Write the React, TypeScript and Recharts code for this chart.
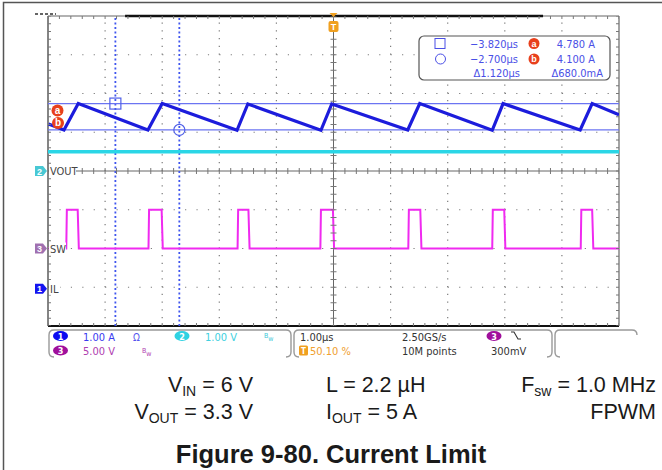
import { ComposedChart, Line, XAxis, YAxis, ReferenceLine, ReferenceDot, Scatter } from 'recharts'

const WIDTH = 662
const HEIGHT = 470
const PLOT_MARGIN = { top: 16, right: 43, bottom: 144, left: 48 }

// graticule: 10 divisions of 1.00 µs across, 8 divisions up
const TIME_DIVS = [-5, -4, -3, -2, -1, 0, 1, 2, 3, 4, 5]
const VERT_DIVS = [-4, -3, -2, -1, 0, 1, 2, 3, 4]
const MINOR_STEP = 0.2

// channel setup: ground position (div) and units per division
const IL_OFFSET = -3.04
const IL_PER_DIV = 1.0 // A
const VOUT_OFFSET = 0
const VOUT_PER_DIV = 1.0 // V
const SW_OFFSET = -2
const SW_PER_DIV = 5.0 // V

// ch1 inductor current, ramp corners (µs, A)
const IL_TIME = [-4.99, -4.72, -4.47, -3.25, -3.0, -1.69, -1.5, -0.22, -0.03, 1.3, 1.51, 2.78, 2.97, 4.32, 4.53, 5.0]
const IL_AMPS = [4.25, 4.1, 4.78, 4.1, 4.78, 4.09, 4.77, 4.09, 4.77, 4.1, 4.78, 4.09, 4.78, 4.1, 4.78, 4.49]

// ch3 switch node (µs, V)
const SW_TIME = [-5, -4.68, -4.67, -4.48, -4.46, -3.24, -3.23, -3.01, -2.99, -1.68, -1.67, -1.49, -1.47, -0.23, -0.22, -0.01, 0.01, 1.31, 1.32, 1.52, 1.54, 2.78, 2.79, 2.99, 3.01, 4.33, 4.34, 4.53, 4.55, 5]
const SW_VOLTS = [0, 0, 5, 5, 0, 0, 5, 5, 0, 0, 5, 5, 0, 0, 5, 5, 0, 0, 5, 5, 0, 0, 5, 5, 0, 0, 5, 5, 0, 0]

// ch2 output voltage (µs, V)
const VOUT_TIME = [-5, 5]
const VOUT_VOLTS = [0.5, 0.5]

// cursors a / b
const CURSOR_TIME = [-3.82, -2.7]
const CURSOR_AMPS = [4.78, 4.1]
const RECORD_VIEW = [-3.65, 3.67]
const TRIGGER_TIME = 0

const SCOPE_FONT = '"Liberation Sans Narrow", "DejaVu Sans Condensed", "Liberation Sans", Arial, sans-serif'
const TEXT_FONT = '"Liberation Sans", Arial, sans-serif'

const toRows = (ts: number[], vs: number[], off: number, perDiv: number) =>
  ts.map((t, i) => ({ t, v: vs[i] / perDiv + off }))

const ilRows = toRows(IL_TIME, IL_AMPS, IL_OFFSET, IL_PER_DIV)
const swRows = toRows(SW_TIME, SW_VOLTS, SW_OFFSET, SW_PER_DIV)
const voutRows = toRows(VOUT_TIME, VOUT_VOLTS, VOUT_OFFSET, VOUT_PER_DIV)
const cursorDiv = CURSOR_AMPS.map(a => a / IL_PER_DIV + IL_OFFSET)

const xMinor = Array.from({ length: 51 }, (_, i) => +(-5 + i * MINOR_STEP).toFixed(2))
const yMinor = Array.from({ length: 41 }, (_, i) => +(-4 + i * MINOR_STEP).toFixed(2))

const tickShape = (x1: number, y1: number, x2: number, y2: number) => (p: any) => (
  <line x1={p.cx + x1} y1={p.cy + y1} x2={p.cx + x2} y2={p.cy + y2} stroke="#777" strokeWidth={1} />
)

const channelTag = (num: string, color: string, label: string, labelW: number) => (p: any) => {
  const { cx, cy } = p
  return (
    <g>
      <path d={`M ${cx - 13} ${cy - 5} L ${cx - 5} ${cy - 5} L ${cx - 1} ${cy} L ${cx - 5} ${cy + 5} L ${cx - 13} ${cy + 5} Z`} fill={color} />
      <text x={cx - 8.5} y={cy + 3.5} fontSize={9} fontWeight="bold" fill="#fff" textAnchor="middle" fontFamily={TEXT_FONT}>{num}</text>
      <rect x={cx + 1} y={cy - 6} width={labelW} height={12} fill="#fff" />
      <text x={cx + 2} y={cy + 4} fontSize={11} fill="#444" fontFamily={SCOPE_FONT}>{label}</text>
    </g>
  )
}

const cursorBadge = (letter: string, dx: number, dy: number) => (p: any) => (
  <g>
    <circle cx={p.cx + dx} cy={p.cy + dy} r={6} fill="#e8401c" />
    <text x={p.cx + dx} y={p.cy + dy + 3.5} fontSize={10} fontWeight="bold" fill="#fff" textAnchor="middle" fontFamily={TEXT_FONT}>{letter}</text>
  </g>
)

const triggerShape = (p: any) => (
  <g>
    <path d={`M ${p.cx - 4} ${p.cy - 3} L ${p.cx + 4} ${p.cy - 3} L ${p.cx} ${p.cy + 1} Z`} fill="#f0a020" />
    <rect x={p.cx - 5} y={p.cy + 5} width={10} height={11} rx={2} fill="#f0a020" />
    <text x={p.cx} y={p.cy + 14} fontSize={9} fontWeight="bold" fill="#fff" textAnchor="middle" fontFamily={TEXT_FONT}>T</text>
  </g>
)

const BLUE_TXT = '#4a4fe6'

const Overlay = () => (
  <svg width={WIDTH} height={HEIGHT} style={{ position: 'absolute', left: 0, top: 0, pointerEvents: 'none' }}>
    {/* page frame */}
    <path d="M 3.5 470 L 3.5 2.5 L 662 2.5" fill="none" stroke="#555" strokeWidth={1.5} />
    <path d="M 35 14 L 56 14" stroke="#333" strokeWidth={1.5} strokeDasharray="3 2" />

    {/* cursor readout */}
    <rect x={419} y={36} width={191} height={44} rx={5} fill="#fff" stroke="#555" strokeWidth={1.2} />
    <g fontFamily={SCOPE_FONT} fontSize={11} fill={BLUE_TXT}>
      <rect x={435} y={38.5} width={10} height={10} fill="none" stroke={BLUE_TXT} strokeWidth={1} />
      <circle cx={440.5} cy={59} r={5} fill="none" stroke={BLUE_TXT} strokeWidth={1} />
      <text x={518} y={47.5} textAnchor="end">−3.820µs</text>
      <text x={518} y={63} textAnchor="end">−2.700µs</text>
      <text x={520} y={77} textAnchor="end">Δ1.120µs</text>
      <text x={595} y={47.5} textAnchor="end">4.780 A</text>
      <text x={595} y={63} textAnchor="end">4.100 A</text>
      <text x={603} y={77} textAnchor="end">Δ680.0mA</text>
    </g>
    <circle cx={534} cy={43.5} r={5.5} fill="#e8401c" />
    <text x={534} y={46.8} fontSize={9} fontWeight="bold" fill="#fff" textAnchor="middle" fontFamily={TEXT_FONT}>a</text>
    <circle cx={534} cy={59} r={5.5} fill="#e8401c" />
    <text x={534} y={62.3} fontSize={9} fontWeight="bold" fill="#fff" textAnchor="middle" fontFamily={TEXT_FONT}>b</text>

    {/* status bar */}
    <g fill="none" stroke="#999" strokeWidth={1.4}>
      <path d="M 54 330 Q 49 330 49 335 L 49 352 Q 49 357 54 357" />
      <path d="M 54 330 L 286 330" />
      <path d="M 286 330 Q 291 330 291 335 L 291 352 Q 291 357 286 357" />
      <path d="M 299 330 Q 294 330 294 335 L 294 352 Q 294 357 299 357" />
      <path d="M 299 330 L 547 330" />
      <path d="M 547 330 Q 552 330 552 335 L 552 352 Q 552 357 547 357" />
      <path d="M 560 330 Q 555 330 555 335 L 555 352 Q 555 357 560 357" />
      <path d="M 560 330 L 632 330 Q 637 330 637 335" />
    </g>
    <g fontFamily={SCOPE_FONT} fontSize={11}>
      <ellipse cx={60.5} cy={336} rx={7.5} ry={5} fill="#0a0af0" />
      <text x={60.5} y={339.5} fontSize={9} fontWeight="bold" fill="#fff" textAnchor="middle">1</text>
      <text x={83} y={340.5} fill="#3a3af0">1.00 A</text>
      <text x={133} y={340.5} fill="#5555ee" fontSize={10}>Ω</text>
      <ellipse cx={182} cy={336} rx={7.5} ry={5} fill="#2fd2e2" />
      <text x={182} y={339.5} fontSize={9} fontWeight="bold" fill="#fff" textAnchor="middle">2</text>
      <text x={205} y={340.5} fill="#40d0e0">1.00 V</text>
      <text x={264} y={338} fill="#40c8d8" fontSize={7}>B<tspan dy={3}>w</tspan></text>
      <ellipse cx={60.5} cy={350.5} rx={7.5} ry={5} fill="#a0109c" />
      <text x={60.5} y={354} fontSize={9} fontWeight="bold" fill="#fff" textAnchor="middle">3</text>
      <text x={83} y={355} fill="#b040b0">5.00 V</text>
      <text x={142} y={352.5} fill="#b040b0" fontSize={7}>B<tspan dy={3}>w</tspan></text>

      <text x={300} y={340.5} fill="#333">1.00µs</text>
      <rect x={299} y={345.5} width={9} height={10} rx={1.5} fill="#f0a020" />
      <text x={303.5} y={353.5} fontSize={8} fontWeight="bold" fill="#fff" textAnchor="middle">T</text>
      <text x={310} y={355} fill="#f0a030">50.10 %</text>
      <text x={402} y={340.5} fill="#333">2.50GS/s</text>
      <text x={402} y={355} fill="#333">10M points</text>
      <ellipse cx={494} cy={336} rx={7.5} ry={5} fill="#a0109c" />
      <text x={494} y={339.5} fontSize={9} fontWeight="bold" fill="#fff" textAnchor="middle">3</text>
      <path d="M 511 332 L 514 332 L 518 339 L 521 339" fill="none" stroke="#333" strokeWidth={1.1} />
      <text x={491} y={355} fill="#333">300mV</text>
    </g>

    {/* test conditions */}
    <g fontFamily={TEXT_FONT} fontSize={21.5} fill="#1a1a1a">
      <text x={253} y={392} textAnchor="end">V<tspan fontSize={14} dy={4}>IN</tspan><tspan dy={-4}> = 6 V</tspan></text>
      <text x={326} y={392}>L = 2.2 µH</text>
      <text x={656} y={392} textAnchor="end">F<tspan fontSize={14} dy={4}>sw</tspan><tspan dy={-4}> = 1.0 MHz</tspan></text>
      <text x={253} y={419} textAnchor="end">V<tspan fontSize={14} dy={4}>OUT</tspan><tspan dy={-4}> = 3.3 V</tspan></text>
      <text x={326} y={419}>I<tspan fontSize={14} dy={4}>OUT</tspan><tspan dy={-4}> = 5 A</tspan></text>
      <text x={656} y={419} textAnchor="end">FPWM</text>
    </g>
    <text x={331} y={463} textAnchor="middle" fontFamily={TEXT_FONT} fontSize={25.5} fontWeight="bold" fill="#1a1a1a">Figure 9-80. Current Limit</text>
  </svg>
)

export default function App() {
  return (
    <div style={{ position: 'absolute', left: 0, top: 0, width: WIDTH, height: HEIGHT, background: '#fff', overflow: 'hidden' }}>
      <ComposedChart width={WIDTH} height={HEIGHT} margin={PLOT_MARGIN}>
        <XAxis type="number" dataKey="t" domain={[-5, 5]} ticks={TIME_DIVS} allowDataOverflow hide />
        <YAxis type="number" dataKey="v" domain={[-4, 4]} ticks={VERT_DIVS} allowDataOverflow hide />

        {/* dotted graticule */}
        {TIME_DIVS.filter(t => Math.abs(t) !== 5 && t !== 0).map(t => (
          <ReferenceLine key={`gx${t}`} x={t} stroke="#7c7c7c" strokeWidth={1.2} strokeDasharray="1.2 6.55" />
        ))}
        {VERT_DIVS.filter(v => Math.abs(v) !== 4 && v !== 0).map(v => (
          <ReferenceLine key={`gy${v}`} y={v} stroke="#7c7c7c" strokeWidth={1.2} strokeDasharray="1.2 10.22" />
        ))}
        <ReferenceLine x={0} stroke="#666" strokeWidth={1} />
        <ReferenceLine y={0} stroke="#666" strokeWidth={1} />
        <ReferenceLine x={-5} stroke="#333" strokeWidth={1.2} ifOverflow="visible" />
        <ReferenceLine x={5} stroke="#666" strokeWidth={1.2} ifOverflow="visible" />
        <ReferenceLine y={4} stroke="#666" strokeWidth={1.2} ifOverflow="visible" />
        <ReferenceLine y={-4} stroke="#111" strokeWidth={2.2} ifOverflow="visible" />

        <Scatter data={xMinor.map(t => ({ t, v: 4 }))} shape={tickShape(0, 0, 0, 3)} isAnimationActive={false} />
        <Scatter data={xMinor.map(t => ({ t, v: -4 }))} shape={tickShape(0, -3, 0, 0)} isAnimationActive={false} />
        <Scatter data={yMinor.map(v => ({ t: -5, v }))} shape={tickShape(0, 0, 3, 0)} isAnimationActive={false} />
        <Scatter data={yMinor.map(v => ({ t: 5, v }))} shape={tickShape(-3, 0, 0, 0)} isAnimationActive={false} />
        <Scatter data={xMinor.map(t => ({ t, v: 0 }))} shape={tickShape(0, -3, 0, 3)} isAnimationActive={false} />
        <Scatter data={yMinor.map(v => ({ t: 0, v }))} shape={tickShape(-3, 0, 3, 0)} isAnimationActive={false} />

        {/* cursors */}
        {CURSOR_TIME.map(t => (
          <ReferenceLine key={`ct${t}`} x={t} stroke="#3f55ee" strokeWidth={1.8} strokeDasharray="2 2.5" />
        ))}
        {cursorDiv.map(v => (
          <ReferenceLine key={`ca${v}`} y={v} stroke="#6b74f2" strokeWidth={1.2} />
        ))}
        <ReferenceLine segment={[{ x: RECORD_VIEW[0], y: 4 }, { x: RECORD_VIEW[1], y: 4 }]} stroke="#111" strokeWidth={2.5} ifOverflow="visible" />

        {/* waveforms */}
        <Line data={voutRows} dataKey="v" type="linear" stroke="#2ad6e6" strokeWidth={3.5} dot={false} isAnimationActive={false} />
        <Line data={swRows} dataKey="v" type="linear" stroke="#f02af0" strokeWidth={2} dot={false} isAnimationActive={false} />
        <Line data={ilRows} dataKey="v" type="linear" stroke="#1c1cdc" strokeWidth={3.2} dot={false} isAnimationActive={false} />

        {/* cursor marks, trigger and channel tags */}
        <ReferenceDot x={CURSOR_TIME[0]} y={cursorDiv[0]} shape={(p: any) => (
          <rect x={p.cx - 5.5} y={p.cy - 5.5} width={11} height={11} fill="none" stroke="#5060e8" strokeWidth={1.2} />
        )} />
        <ReferenceDot x={CURSOR_TIME[1]} y={cursorDiv[1]} shape={(p: any) => (
          <circle cx={p.cx} cy={p.cy} r={5.5} fill="none" stroke="#5060e8" strokeWidth={1.2} />
        )} />
        <ReferenceDot x={-5} y={cursorDiv[0]} shape={cursorBadge('a', 9.5, 7)} />
        <ReferenceDot x={-5} y={cursorDiv[1]} shape={cursorBadge('b', 10, -7)} />
        <ReferenceDot x={TRIGGER_TIME} y={4} shape={triggerShape} />
        <ReferenceDot x={-5} y={VOUT_OFFSET} shape={channelTag('2', '#48c8d4', 'VOUT', 27)} />
        <ReferenceDot x={-5} y={SW_OFFSET} shape={channelTag('3', '#a070b0', 'SW', 17)} />
        <ReferenceDot x={-5} y={IL_OFFSET} shape={channelTag('1', '#1414f0', 'IL', 11)} />
      </ComposedChart>
      <Overlay />
    </div>
  )
}
